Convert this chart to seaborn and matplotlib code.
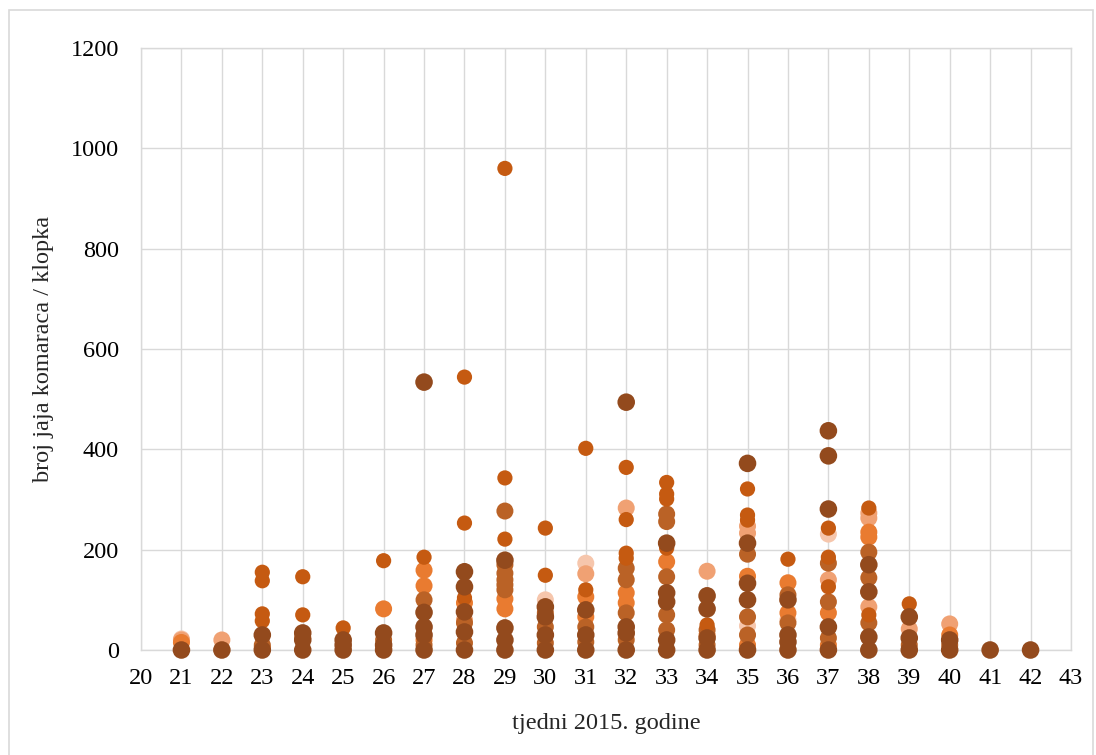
import matplotlib
matplotlib.use("Agg")
import matplotlib.pyplot as plt
import seaborn as sns
import pandas as pd
from matplotlib.patches import Rectangle

# ---- data (week, value) per colour series ----
pale_weeks = [21, 30, 31, 32, 35, 36, 37]
pale_vals = [22, 100, 173, 30, 48, 60, 231]

salmon_weeks = [21, 22, 26, 28, 31, 32, 34, 35, 35, 37, 38, 38, 38, 39, 40]
salmon_vals = [20, 20, 5, 60, 152, 283, 157, 247, 233, 140, 273, 263, 86, 42, 52]

orange_weeks = [21, 23, 26, 27, 27, 27, 28, 29, 29, 31, 31, 32, 32, 33, 34, 35, 35,
                36, 36, 37, 37, 38, 38, 40]
orange_vals = [15, 5, 82, 159, 128, 20, 94, 102, 82, 106, 66, 114, 94, 176, 30, 147, 10,
               134, 74, 74, 10, 235, 225, 30]

medium_weeks = [23, 24, 26, 27, 27, 28, 28, 29, 29, 29, 29, 29, 29, 30, 30, 30, 31, 31,
                32, 32, 32, 32, 33, 33, 33, 33, 33, 34, 34, 35, 35, 35, 36, 36,
                37, 37, 37, 38, 38, 38, 39, 40]
medium_vals = [10, 25, 20, 100, 10, 54, 14, 277, 170, 153, 140, 130, 120, 74, 46, 14, 46, 16,
               163, 140, 74, 20, 271, 256, 146, 70, 40, 40, 10, 191, 66, 30, 110, 54,
               173, 96, 24, 195, 144, 54, 10, 10]

rust_weeks = [23, 23, 23, 23, 24, 24, 25, 26, 27, 28, 28, 28, 29, 29, 29, 30, 30, 31, 31,
              32, 32, 32, 32, 33, 33, 33, 33, 34, 35, 35, 35, 36, 37, 37, 37, 38, 38, 39]
rust_vals = [155, 138, 72, 58, 146, 70, 44, 178, 185, 544, 253, 104, 960, 343, 221, 243, 149,
             402, 120, 364, 260, 193, 183, 334, 311, 301, 203, 50, 321, 269, 259, 181,
             243, 185, 126, 283, 70, 92]

dark_weeks = [21, 22, 23, 23, 24, 24, 24, 25, 25, 25, 26, 26, 26,
              27, 27, 27, 27, 27, 28, 28, 28, 28, 28, 29, 29, 29, 29,
              30, 30, 30, 30, 31, 31, 31, 32, 32, 32, 32, 33, 33, 33, 33, 33,
              34, 34, 34, 34, 35, 35, 35, 35, 35, 36, 36, 36, 36,
              37, 37, 37, 37, 37, 38, 38, 38, 38, 39, 39, 39, 40, 40, 41, 42]
dark_vals = [0, 0, 0, 30, 0, 34, 20, 0, 20, 10, 0, 10, 34,
             534, 75, 46, 30, 0, 156, 126, 76, 36, 0, 179, 44, 20, 0,
             86, 66, 30, 0, 80, 30, 0, 494, 46, 34, 0, 213, 114, 96, 20, 0,
             108, 82, 24, 0, 372, 213, 133, 100, 0, 100, 30, 16, 0,
             437, 387, 281, 46, 0, 170, 116, 26, 0, 66, 24, 0, 20, 0, 0, 0]

series_names = ["pale", "salmon", "orange", "medium", "rust", "dark"]
series_colors = {"pale": "#F6C6AC", "salmon": "#F0A173", "orange": "#E97B30",
                 "medium": "#BA6226", "rust": "#C55A11", "dark": "#934A1D"}
series_sizes = {"pale": 150, "salmon": 150, "orange": 150,
                "medium": 150, "rust": 120, "dark": 160}

xticks = list(range(20, 44))
yticks = [0, 200, 400, 600, 800, 1000, 1200]
xlabel = "tjedni 2015. godine"
ylabel = "broj jaja komaraca / klopka"

frames = []
for name, w, v in [("pale", pale_weeks, pale_vals), ("salmon", salmon_weeks, salmon_vals),
                   ("orange", orange_weeks, orange_vals), ("medium", medium_weeks, medium_vals),
                   ("rust", rust_weeks, rust_vals), ("dark", dark_weeks, dark_vals)]:
    frames.append(pd.DataFrame({"week": w, "value": v, "series": name}))
df = pd.concat(frames, ignore_index=True)

sns.set_style("white")
plt.rcParams["font.family"] = ["Liberation Serif", "DejaVu Serif"]

W, H = 1096, 755
fig = plt.figure(figsize=(W / 100, H / 100), dpi=100)
ax = fig.add_axes([141 / W, 1 - 650 / H, (1071 - 141) / W, (650 - 48) / H])

sns.scatterplot(data=df, x="week", y="value", hue="series", palette=series_colors,
                size="series", sizes=series_sizes, hue_order=series_names,
                size_order=series_names, linewidth=0, legend=False, ax=ax,
                clip_on=False, zorder=3)

ax.set_xlim(20, 43)
ax.set_ylim(0, 1200)
ax.set_xticks(xticks)
ax.set_yticks(yticks)
ax.set_xticklabels([str(t) for t in xticks])
ax.set_yticklabels([str(t) for t in yticks])
ax.tick_params(axis="both", length=0, labelsize=17.5, colors="black")
ax.tick_params(axis="y", pad=16)
ax.tick_params(axis="x", pad=13)
ax.grid(True, color="#D9D9D9", linewidth=1.0)
ax.set_axisbelow(True)
for sp in ax.spines.values():
    sp.set_color("#D9D9D9")
    sp.set_linewidth(1.0)
ax.set_xlabel(xlabel, fontsize=17.5, labelpad=17)
ax.set_ylabel(ylabel, fontsize=17.5, labelpad=12)

fig.patches.append(Rectangle((9 / W, -0.05), (1093 - 9) / W, 1.05 - 10 / H,
                             transform=fig.transFigure, fill=False,
                             edgecolor="#D9D9D9", linewidth=1.2))

fig.savefig("out.png", dpi=100)
